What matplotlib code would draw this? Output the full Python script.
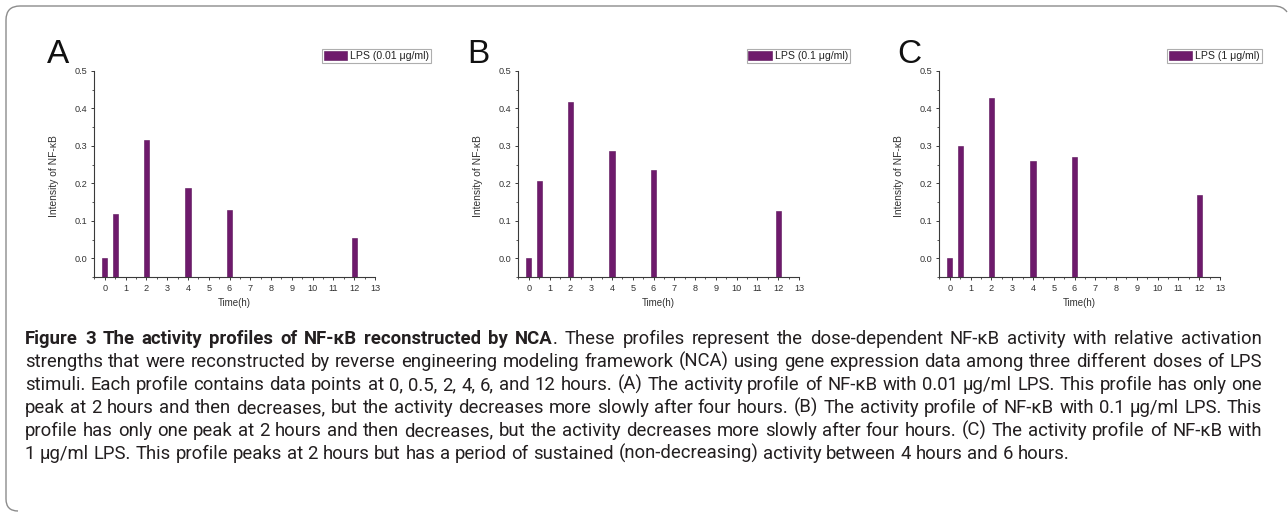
import matplotlib
matplotlib.use("Agg")
import matplotlib.pyplot as plt
from matplotlib.path import Path
from matplotlib.patches import PathPatch
from matplotlib.ticker import MultipleLocator, FormatStrFormatter

# === DATA ===
time_h = [0, 0.5, 2, 4, 6, 12]
nfkb_lps_001 = [0.0, 0.118, 0.317, 0.188, 0.128, 0.053]
nfkb_lps_01 = [0.0, 0.207, 0.417, 0.286, 0.236, 0.126]
nfkb_lps_1 = [0.0, 0.300, 0.429, 0.260, 0.270, 0.170]
panel_letters = ["A", "B", "C"]
legend_labels = ["LPS (0.01 \u03bcg/ml)", "LPS (0.1 \u03bcg/ml)", "LPS (1 \u03bcg/ml)"]
x_ticks = list(range(0, 14))
y_ticks = [0.0, 0.1, 0.2, 0.3, 0.4, 0.5]

caption_bold = "Figure 3 The activity profiles of NF-\u03baB reconstructed by NCA"
caption_lines = [
    ". These profiles represent the dose-dependent NF-\u03baB activity with relative activation",
    "strengths that were reconstructed by reverse engineering modeling framework (NCA) using gene expression data among three different doses of LPS",
    "stimuli. Each profile contains data points at 0, 0.5, 2, 4, 6, and 12 hours. (A) The activity profile of NF-\u03baB with 0.01 \u03bcg/ml LPS. This profile has only one",
    "peak at 2 hours and then decreases, but the activity decreases more slowly after four hours. (B) The activity profile of NF-\u03baB with 0.1 \u03bcg/ml LPS. This",
    "profile has only one peak at 2 hours and then decreases, but the activity decreases more slowly after four hours. (C) The activity profile of NF-\u03baB with",
    "1 \u03bcg/ml LPS. This profile peaks at 2 hours but has a period of sustained (non-decreasing) activity between 4 hours and 6 hours.",
]

# === STYLE ===
W, H = 1288, 514
BAR_COLOR = "#6e1a6c"
AX_COLOR = "#3a3a3a"
CAP_COLOR = "#231f20"
plt.rcParams["font.family"] = ["Liberation Sans", "DejaVu Sans"]
cap_font = ["Roboto", "DejaVu Sans"]

fig = plt.figure(figsize=(W / 100, H / 100), dpi=100)


def fx(px):
    return px / W


def fy(py):
    return 1 - py / H


series = [nfkb_lps_001, nfkb_lps_01, nfkb_lps_1]
ax_left = [94, 518, 939]
ax_top, ax_bottom, ax_w = 71, 277, 281
letter_x = [47, 467, 897]
legend_right = [431, 850, 1262]
ybase = -0.05

for i, vals in enumerate(series):
    ax = fig.add_axes([fx(ax_left[i]), fy(ax_bottom), fx(ax_w), (ax_bottom - ax_top) / H])
    heights = [v - ybase for v in vals]
    ax.bar(time_h, heights, bottom=ybase, width=0.25, color=BAR_COLOR,
           edgecolor="#5a1058", linewidth=0.4, label=legend_labels[i])
    ax.set_xlim(-0.52, 13)
    ax.set_ylim(ybase, 0.5)
    ax.set_xticks(x_ticks)
    ax.xaxis.set_minor_locator(MultipleLocator(0.5))
    ax.set_yticks(y_ticks)
    ax.yaxis.set_minor_locator(MultipleLocator(0.05))
    ax.yaxis.set_major_formatter(FormatStrFormatter("%.1f"))
    for s in ["top", "right"]:
        ax.spines[s].set_visible(False)
    for s in ["left", "bottom"]:
        ax.spines[s].set_color(AX_COLOR)
        ax.spines[s].set_linewidth(0.8)
    ax.tick_params(which="major", length=2.5, width=0.7, color=AX_COLOR,
                   labelsize=6.6, labelcolor="#333333", pad=2.5)
    ax.tick_params(which="minor", length=1.5, width=0.6, color=AX_COLOR)
    ax.set_ylabel("Intensity of NF-\u03baB", fontsize=7.4, color="#333333")
    ax.yaxis.set_label_coords(-0.125, 0.49)
    ax.set_xlabel("Time(h)", fontsize=7.0, color="#333333")
    ax.xaxis.set_label_coords(0.5, -0.10)
    ax.set_facecolor("none")

    leg = ax.legend(loc="upper right", bbox_to_anchor=(fx(legend_right[i]), fy(49)),
                    bbox_transform=fig.transFigure, fontsize=7.6, frameon=True,
                    fancybox=False, handlelength=2.2, handleheight=0.95,
                    handletextpad=0.3, borderpad=0.18, borderaxespad=0)
    leg.get_frame().set_edgecolor("#9a9a9a")
    leg.get_frame().set_linewidth(0.8)
    for t in leg.get_texts():
        t.set_color("#222222")

    fig.text(fx(letter_x[i]), fy(63), panel_letters[i], fontsize=24,
             ha="left", va="baseline", color="#111111")

# === Caption (justified) ===
renderer = fig.canvas.get_renderer()
cap_left, cap_right = 25, 1262


def measure(txt, weight, size):
    t = fig.text(0, 0, txt, fontsize=size, family=cap_font, fontweight=weight)
    w = t.get_window_extent(renderer).width
    t.remove()
    return w


def line_runs(k):
    # runs are glued to each other; words inside a run are split by spaces
    if k == 0:
        return [(caption_bold, "bold"), (caption_lines[0], "normal")]
    return [(caption_lines[k], "normal")]


def layout_line(k, size):
    words = []   # (text, weight, natural_x, gaps_before)
    offset = 0.0
    gaps = 0
    for r, (run, wt) in enumerate(line_runs(k)):
        parts = run.split(" ")
        for j, p in enumerate(parts):
            start = measure(" ".join(parts[:j + 1]), wt, size) - measure(p, wt, size)
            if j > 0:
                gaps += 1
            words.append((p, wt, offset + start, gaps))
        offset += measure(run, wt, size)
    return words, offset, gaps


base = 12.0
natural = max(layout_line(k, base)[1] for k in range(len(caption_lines)))
size = base * (cap_right - cap_left) * 0.99 / natural

for k in range(len(caption_lines)):
    words, total, gaps = layout_line(k, size)
    last = k == len(caption_lines) - 1
    extra = 0 if last else (cap_right - cap_left - total) / gaps
    base_y = 344 + 23 * k
    for p, wt, x0, g in words:
        fig.text(fx(cap_left + x0 + extra * g), fy(base_y), p, fontsize=size,
                 family=cap_font, fontweight=wt, color=CAP_COLOR,
                 ha="left", va="baseline")

# === Border ===
verts = [(18, 511), (6, 511), (6, 499), (6, 20), (6, 6), (20, 6),
         (1274, 6), (1283, 6), (1287, 12)]
codes = [Path.MOVETO, Path.CURVE3, Path.CURVE3, Path.LINETO, Path.CURVE3, Path.CURVE3,
         Path.LINETO, Path.CURVE3, Path.CURVE3]
border = Path([(fx(a), fy(b)) for a, b in verts], codes)
fig.patches.append(PathPatch(border, transform=fig.transFigure, fill=False,
                             edgecolor="#8c8c8c", linewidth=1.0))

fig.savefig("out.png", dpi=100)
